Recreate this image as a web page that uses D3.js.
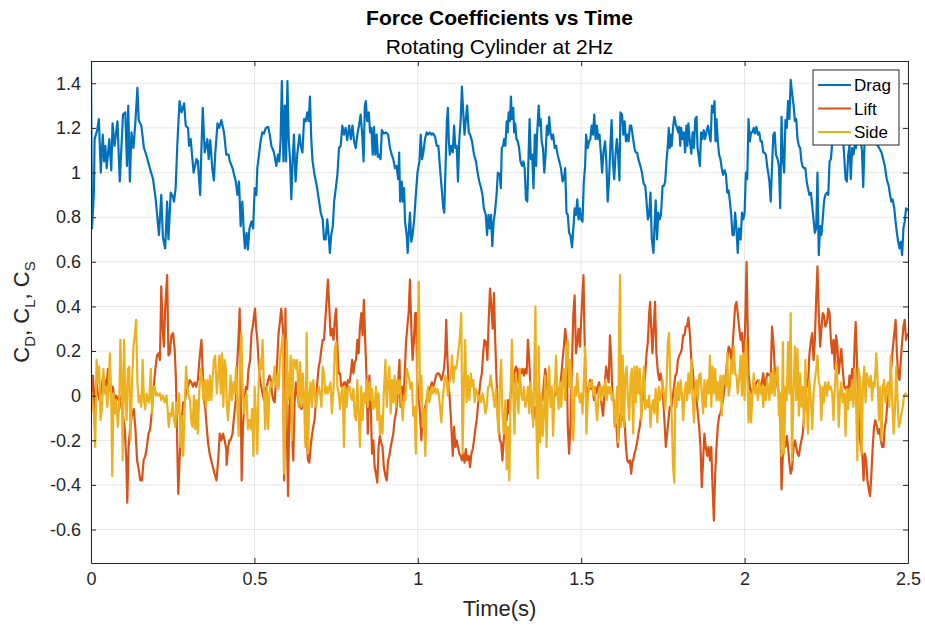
<!DOCTYPE html>
<html>
<head>
<meta charset="utf-8">
<script src="https://cdn.jsdelivr.net/npm/d3@7"></script>
<style>
  body { margin: 0; background: #fff; }
  svg text { font-family: "Liberation Sans", Arial, Helvetica, sans-serif; fill: #262626; }
</style>
</head>
<body>
<svg id="chart" width="925" height="632"></svg>
<script>
// tick values
var xTicks = [0, 0.5, 1, 1.5, 2, 2.5];
var yTicks = [-0.6, -0.4, -0.2, 0, 0.2, 0.4, 0.6, 0.8, 1, 1.2, 1.4];
var seriesNames = ["Drag", "Lift", "Side"];

// [time (s), coefficient]
var dragPts = [[0,1.50],[0.003,0.75],[0.009,0.91],[0.011,1.15],[0.019,1.19],[0.024,1.24],[0.030,1.00],[0.036,1.17],[0.040,1.05],[0.044,1.12],[0.048,1.02],[0.056,1.15],[0.062,1.01],[0.066,1.22],[0.072,1.12],[0.081,1.23],[0.088,0.96],[0.098,1.26],[0.105,1.27],[0.110,1.03],[0.114,1.30],[0.119,0.96],[0.124,1.18],[0.130,1.11],[0.136,1.23],[0.142,1.38],[0.146,1.235],[0.154,1.21],[0.162,1.11],[0.169,1.08],[0.180,1.02],[0.190,0.97],[0.198,0.88],[0.208,0.72],[0.215,0.90],[0.220,0.71],[0.227,0.66],[0.233,0.87],[0.237,0.70],[0.244,0.91],[0.251,0.89],[0.254,0.87],[0.259,0.93],[0.264,1.12],[0.267,1.21],[0.271,1.32],[0.277,1.27],[0.285,1.31],[0.290,1.21],[0.297,1.20],[0.300,1.12],[0.305,1.15],[0.314,1.00],[0.323,1.06],[0.327,1.05],[0.334,0.90],[0.338,1.11],[0.342,1.29],[0.348,1.09],[0.356,1.15],[0.360,1.06],[0.365,1.145],[0.371,1.02],[0.376,0.965],[0.380,1.08],[0.387,1.22],[0.392,1.20],[0.399,1.235],[0.407,1.18],[0.414,1.08],
  [0.421,1.08],[0.425,1.05],[0.433,1.02],[0.438,0.99],[0.443,0.96],[0.448,0.90],[0.453,0.96],[0.458,0.76],[0.463,0.87],[0.468,0.72],[0.471,0.66],[0.476,0.73],[0.480,0.655],[0.485,0.75],[0.491,0.78],[0.496,0.75],[0.501,0.93],[0.506,0.90],[0.509,1.02],[0.514,1.08],[0.519,1.14],[0.524,1.18],[0.529,1.175],[0.535,1.20],[0.542,1.205],[0.547,1.17],[0.552,1.12],[0.560,1.09],[0.567,1.03],[0.572,1.08],[0.576,1.05],[0.580,1.14],[0.584,1.41],[0.589,1.05],[0.593,1.30],[0.597,1.05],[0.601,1.41],[0.605,1.15],[0.609,1.06],[0.613,0.88],[0.617,1.05],[0.621,1.17],[0.626,0.96],[0.631,1.08],[0.638,1.17],[0.642,1.12],[0.647,1.09],[0.652,1.24],[0.657,1.23],[0.662,1.27],[0.666,1.23],[0.670,1.34],[0.674,1.15],[0.678,1.05],[0.684,0.99],[0.691,0.94],[0.697,0.88],[0.703,0.82],[0.709,0.79],[0.713,0.70],[0.718,0.70],[0.723,0.79],[0.727,0.72],[0.731,0.64],[0.735,0.72],[0.740,0.76],[0.744,0.87],[0.750,0.94],[0.754,0.99],[0.759,1.11],[0.764,1.12],[0.769,1.21],[0.774,1.17],[0.779,1.20],[0.784,1.145],[0.790,1.21],[0.795,1.15],[0.800,1.21],[0.805,1.14],[0.810,1.11],[0.815,1.17],[0.820,1.21],[0.825,1.26],[0.830,1.17],
  [0.834,1.05],[0.838,1.30],[0.841,1.32],[0.845,1.23],[0.850,1.27],[0.854,1.18],[0.858,1.20],[0.862,1.08],[0.866,1.205],[0.870,1.08],[0.874,1.17],[0.878,1.07],[0.882,1.08],[0.886,1.06],[0.890,1.19],[0.896,1.175],[0.903,1.18],[0.909,1.17],[0.915,1.11],[0.920,1.08],[0.925,1.06],[0.930,1.02],[0.935,1.03],[0.940,0.97],[0.943,1.09],[0.946,0.87],[0.951,0.96],[0.954,0.87],[0.958,0.93],[0.961,0.78],[0.966,0.72],[0.969,0.64],[0.973,0.75],[0.976,0.82],[0.980,0.69],[0.984,0.72],[0.989,0.79],[0.994,0.90],[0.999,1.00],[1.005,1.05],[1.009,1.17],[1.013,1.06],[1.017,1.09],[1.022,1.15],[1.027,1.18],[1.032,1.17],[1.037,1.18],[1.042,1.17],[1.047,1.175],[1.053,1.16],[1.058,1.12],[1.063,1.12],[1.068,1.02],[1.073,0.93],[1.078,0.84],[1.081,0.82],[1.085,1.03],[1.089,1.23],[1.092,1.29],[1.095,1.14],[1.098,1.08],[1.102,1.12],[1.107,1.09],[1.111,1.21],[1.115,1.11],[1.119,1.12],[1.123,0.96],[1.127,1.15],[1.131,1.23],[1.135,1.385],[1.139,1.27],[1.143,1.17],[1.147,1.24],[1.151,1.30],[1.156,1.18],[1.160,1.17],[1.166,1.14],[1.172,1.08],[1.178,1.05],[1.183,1.00],[1.188,0.96],[1.193,0.935],[1.198,0.90],[1.202,0.84],[1.208,0.81],[1.212,0.72],[1.216,0.81],[1.220,0.75],[1.224,0.81],[1.228,0.67],[1.232,0.78],[1.236,0.82],[1.241,0.90],[1.245,1.00],
  [1.251,0.99],[1.254,0.93],[1.257,1.11],[1.261,1.12],[1.264,1.15],[1.268,1.12],[1.272,1.23],[1.275,1.18],[1.278,1.27],[1.282,1.23],[1.285,1.34],[1.288,1.24],[1.292,1.29],[1.295,1.18],[1.298,1.22],[1.302,1.15],[1.306,1.14],[1.310,1.11],[1.314,1.05],[1.319,1.03],[1.323,1.05],[1.327,1.02],[1.331,0.88],[1.335,0.87],[1.339,1.08],[1.342,1.24],[1.346,1.06],[1.350,1.08],[1.354,0.93],[1.358,1.17],[1.362,1.03],[1.365,1.17],[1.370,1.30],[1.373,1.21],[1.376,1.24],[1.379,1.14],[1.383,1.11],[1.387,1.00],[1.391,1.08],[1.395,1.21],[1.399,1.17],[1.402,1.25],[1.406,1.18],[1.410,1.15],[1.414,1.17],[1.419,1.11],[1.423,1.12],[1.428,1.08],[1.433,1.05],[1.438,1.02],[1.443,0.96],[1.447,0.97],[1.451,1.02],[1.455,0.82],[1.459,0.81],[1.463,0.73],[1.467,0.72],[1.472,0.665],[1.476,0.75],[1.480,0.84],[1.484,0.81],[1.488,0.88],[1.492,0.79],[1.496,0.84],[1.500,0.79],[1.504,0.78],[1.508,0.96],[1.512,1.03],[1.515,1.17],[1.520,1.11],[1.524,1.14],[1.528,1.15],[1.532,1.21],[1.536,1.17],[1.540,1.26],[1.544,1.15],[1.548,1.21],[1.552,1.15],[1.556,1.17],[1.560,1.09],[1.564,1.00],[1.568,1.09],[1.573,1.14],[1.577,1.05],[1.581,0.87],[1.585,0.96],[1.589,1.11],[1.593,1.235],[1.597,1.05],[1.601,0.97],[1.605,1.08],[1.609,1.15],[1.613,1.08],[1.617,0.965],[1.620,1.27],[1.625,1.26],[1.629,1.17],[1.633,1.23],[1.637,1.14],[1.641,1.17],[1.645,1.14],[1.649,1.21],[1.653,1.21],[1.657,1.17],
  [1.663,1.11],[1.667,1.09],[1.671,1.09],[1.675,1.06],[1.681,1.03],[1.686,1.00],[1.691,0.95],[1.696,0.94],[1.700,0.87],[1.704,0.79],[1.708,0.81],[1.712,0.91],[1.716,0.70],[1.721,0.64],[1.725,0.78],[1.728,0.875],[1.732,0.70],[1.736,0.82],[1.740,0.79],[1.744,0.81],[1.749,0.94],[1.753,0.94],[1.757,0.96],[1.761,1.05],[1.765,1.12],[1.768,1.20],[1.771,1.11],[1.774,1.17],[1.777,1.12],[1.781,1.20],[1.785,1.25],[1.789,1.22],[1.793,1.20],[1.797,1.18],[1.800,1.205],[1.803,1.12],[1.806,1.20],[1.810,1.15],[1.814,1.18],[1.818,1.09],[1.822,1.21],[1.825,1.12],[1.828,1.22],[1.832,1.15],[1.837,1.085],[1.841,1.18],[1.845,1.11],[1.849,1.24],[1.853,1.25],[1.856,1.11],[1.859,1.08],[1.863,1.03],[1.867,1.18],[1.871,1.15],[1.875,1.19],[1.879,1.15],[1.883,1.18],[1.888,1.21],[1.892,1.17],[1.896,1.14],[1.900,1.30],[1.904,1.27],[1.908,1.32],[1.911,1.14],[1.914,1.24],[1.918,1.14],[1.922,1.08],[1.926,1.06],[1.930,1.02],[1.934,0.99],[1.939,1.01],[1.943,0.99],[1.947,0.91],[1.951,0.92],[1.955,0.87],[1.959,0.81],[1.963,0.72],[1.967,0.72],[1.971,0.82],[1.975,0.75],[1.979,0.64],[1.983,0.75],[1.988,0.70],[1.992,0.82],[1.996,0.79],[2.000,0.82],[2.004,1.00],[2.008,0.97],[2.012,1.24],[2.016,1.14],[2.020,1.18],[2.024,1.18],[2.028,1.20],[2.032,1.175],[2.036,1.205],[2.041,1.17],[2.045,1.18],[2.049,1.14],[2.053,1.14],[2.057,1.09],[2.061,1.09],[2.065,1.08],[2.069,1.03],
  [2.076,0.96],[2.080,0.87],[2.084,1.03],[2.088,1.17],[2.092,1.18],[2.096,1.08],[2.101,1.06],[2.105,1.03],[2.109,0.84],[2.113,1.25],[2.117,1.06],[2.121,1.00],[2.125,1.235],[2.129,1.20],[2.133,1.32],[2.137,1.24],[2.141,1.415],[2.145,1.36],[2.150,1.30],[2.154,1.23],[2.158,1.24],[2.162,1.15],[2.166,1.12],[2.170,1.11],[2.174,1.05],[2.178,1.025],[2.182,1.02],[2.186,1.02],[2.190,0.96],[2.194,0.93],[2.198,0.90],[2.203,0.91],[2.207,0.85],[2.211,0.79],[2.215,0.73],[2.219,0.75],[2.223,1.00],[2.227,0.63],[2.231,0.76],[2.235,0.72],[2.239,0.79],[2.243,0.87],[2.247,0.90],[2.252,0.91],[2.256,0.90],[2.260,1.05],[2.264,1.06],[2.268,1.13],[2.272,1.18],[2.277,1.22],[2.282,1.16],[2.287,1.25],[2.292,1.19],[2.297,1.22],[2.302,1.14],[2.309,0.97],[2.313,0.96],[2.317,1.08],[2.321,1.12],[2.325,0.97],[2.329,1.11],[2.333,1.08],[2.337,1.12],[2.341,1.11],[2.345,1.18],[2.350,1.22],[2.355,1.15],[2.359,1.10],[2.363,0.935],[2.367,1.14],[2.372,1.20],[2.377,1.24],[2.382,1.17],[2.387,1.21],[2.392,1.16],[2.397,1.19],[2.402,1.13],[2.408,1.12],[2.419,1.09],[2.429,1.03],[2.435,0.97],[2.441,0.94],[2.445,0.90],[2.449,0.87],[2.453,0.88],[2.458,0.84],[2.462,0.78],[2.466,0.73],[2.470,0.69],[2.474,0.66],[2.478,0.69],[2.482,0.63],[2.486,0.75],[2.490,0.78],[2.494,0.84],[2.500,0.83]];

var liftPts = [[0.000,0.00],[0.006,0.09],[0.011,-0.08],[0.016,0.07],[0.021,0.01],[0.026,-0.02],[0.032,0.03],[0.037,0.09],[0.042,0.07],[0.047,0.03],[0.052,0.12],[0.057,0.04],[0.062,0.01],[0.067,0.04],[0.072,-0.02],[0.077,0.00],[0.083,-0.02],[0.088,0.00],[0.093,-0.05],[0.098,-0.09],[0.103,-0.14],[0.108,-0.29],[0.111,-0.48],[0.115,-0.23],[0.120,-0.14],[0.125,-0.09],[0.131,-0.06],[0.136,-0.15],[0.141,-0.29],[0.146,-0.33],[0.151,-0.38],[0.156,-0.38],[0.161,-0.29],[0.166,-0.27],[0.171,-0.23],[0.176,-0.17],[0.181,-0.15],[0.187,-0.06],[0.192,0.04],[0.197,0.12],[0.202,0.18],[0.207,0.19],[0.211,0.16],[0.215,0.49],[0.219,0.31],[0.223,0.22],[0.227,0.39],[0.233,0.54],[0.237,0.18],[0.241,0.19],[0.246,0.27],[0.251,0.28],[0.256,0.21],[0.260,0.07],[0.264,-0.23],[0.267,-0.44],[0.271,-0.29],[0.276,-0.14],[0.282,-0.03],[0.287,-0.03],[0.292,0.03],[0.297,0.04],[0.302,0.07],[0.307,0.06],[0.312,0.04],[0.317,0.06],[0.322,0.04],[0.327,0.07],[0.333,0.18],[0.338,0.25],[0.342,0.10],[0.346,-0.02],[0.350,-0.06],[0.354,-0.14],[0.358,-0.21],[0.363,-0.26],[0.368,-0.29],[0.373,-0.32],[0.378,-0.35],[0.384,-0.38],[0.389,-0.29],[0.394,-0.17],[0.399,-0.20],[0.404,-0.17],[0.409,-0.20],[0.414,-0.24],
  [0.415,-0.31],[0.419,-0.24],[0.423,-0.20],[0.427,-0.20],[0.433,-0.17],[0.438,-0.09],[0.443,-0.02],[0.448,0.16],[0.452,0.28],[0.455,0.39],[0.458,0.01],[0.461,-0.38],[0.465,-0.14],[0.470,-0.02],[0.474,0.04],[0.478,0.03],[0.482,0.12],[0.487,0.16],[0.491,0.28],[0.495,0.31],[0.499,0.36],[0.502,0.39],[0.505,0.31],[0.509,0.25],[0.513,0.15],[0.517,0.07],[0.521,0.04],[0.525,0.01],[0.529,-0.02],[0.533,0.03],[0.538,0.04],[0.542,0.07],[0.546,0.09],[0.550,0.07],[0.554,0.01],[0.558,-0.02],[0.562,-0.03],[0.566,0.07],[0.570,0.16],[0.574,0.28],[0.578,0.33],[0.582,0.39],[0.587,0.31],[0.591,-0.38],[0.595,0.39],[0.599,-0.14],[0.603,-0.45],[0.607,-0.05],[0.611,0.01],[0.615,-0.17],[0.619,-0.29],[0.623,-0.03],[0.627,0.06],[0.631,0.01],[0.635,-0.03],[0.640,-0.05],[0.644,-0.06],[0.648,-0.05],[0.652,-0.03],[0.656,-0.08],[0.660,-0.18],[0.664,-0.29],[0.668,-0.30],[0.672,-0.23],[0.676,-0.18],[0.680,-0.14],[0.684,-0.11],[0.689,-0.02],[0.693,0.07],[0.697,0.13],[0.701,0.16],[0.705,0.21],[0.709,0.25],[0.713,0.25],[0.717,0.34],[0.721,0.43],[0.725,0.52],[0.729,0.40],[0.733,0.27],[0.737,0.30],[0.742,0.25],[0.746,0.34],[0.750,0.39],[0.754,0.22],[0.758,0.10],[0.762,0.10],[0.766,0.04],[0.770,0.04],[0.774,0.06],[0.778,0.06],[0.782,0.01],[0.786,0.07],[0.791,0.06],[0.795,0.10],[0.799,0.16],[0.803,0.10],[0.807,0.15],[0.811,0.16],[0.815,0.25],[0.819,0.19],[0.823,0.31],
  [0.827,0.37],[0.831,0.27],[0.835,0.43],[0.839,0.25],[0.843,0.09],[0.847,-0.17],[0.852,0.09],[0.856,-0.05],[0.860,-0.26],[0.864,-0.20],[0.868,-0.32],[0.872,-0.35],[0.876,-0.39],[0.880,-0.23],[0.884,-0.18],[0.888,-0.21],[0.892,-0.23],[0.896,-0.32],[0.901,-0.36],[0.905,-0.38],[0.909,-0.29],[0.913,-0.27],[0.917,-0.23],[0.921,-0.20],[0.925,-0.17],[0.929,-0.11],[0.933,-0.08],[0.937,-0.03],[0.941,0.09],[0.944,0.16],[0.947,-0.05],[0.952,0.04],[0.956,-0.03],[0.960,0.10],[0.964,0.24],[0.968,0.31],[0.972,0.37],[0.976,0.52],[0.980,0.31],[0.984,0.16],[0.988,0.24],[0.992,0.37],[0.995,0.37],[0.998,0.07],[1.003,0.00],[1.007,-0.09],[1.011,-0.20],[1.015,-0.08],[1.019,-0.11],[1.023,-0.05],[1.027,-0.02],[1.031,0.01],[1.035,0.03],[1.039,0.04],[1.043,0.06],[1.047,0.04],[1.051,0.06],[1.056,0.09],[1.060,0.10],[1.064,0.10],[1.068,0.09],[1.072,0.07],[1.076,0.09],[1.080,0.12],[1.084,0.19],[1.087,0.34],[1.090,0.19],[1.094,0.06],[1.098,-0.02],[1.102,-0.12],[1.107,-0.27],[1.111,-0.14],[1.115,-0.23],[1.119,-0.20],[1.123,-0.23],[1.127,-0.26],[1.131,-0.27],[1.135,-0.29],[1.139,-0.26],[1.143,-0.30],[1.147,-0.24],[1.151,-0.29],[1.156,-0.27],[1.160,-0.32],[1.164,-0.26],[1.168,-0.24],[1.172,-0.20],[1.176,-0.15],[1.180,-0.11],[1.184,-0.05],[1.188,0.01],[1.192,0.07],[1.196,0.10],[1.200,0.19],[1.204,0.25],[1.209,0.24],[1.213,0.16],[1.217,0.34],[1.221,0.48],[1.225,0.40],[1.229,0.30],[1.233,0.46],[1.237,0.24],[1.241,0.07],[1.245,-0.09],
  [1.251,-0.20],[1.255,-0.21],[1.259,-0.29],[1.263,-0.20],[1.268,-0.08],[1.272,-0.11],[1.276,-0.02],[1.280,-0.08],[1.284,0.01],[1.288,0.04],[1.292,0.04],[1.296,0.10],[1.300,0.13],[1.304,0.12],[1.308,0.06],[1.312,0.12],[1.317,0.10],[1.321,0.12],[1.325,0.09],[1.329,0.12],[1.333,0.10],[1.337,0.25],[1.341,0.16],[1.345,0.03],[1.349,-0.05],[1.353,-0.11],[1.357,-0.05],[1.361,-0.08],[1.365,-0.14],[1.370,-0.09],[1.374,-0.03],[1.378,0.00],[1.382,-0.02],[1.386,0.06],[1.390,0.12],[1.394,0.07],[1.398,0.01],[1.402,0.04],[1.406,0.01],[1.410,-0.02],[1.414,-0.02],[1.419,0.00],[1.423,0.01],[1.427,0.03],[1.431,0.01],[1.435,0.04],[1.439,0.09],[1.443,0.16],[1.447,0.22],[1.451,0.30],[1.455,0.25],[1.459,-0.14],[1.463,-0.26],[1.467,-0.14],[1.472,0.16],[1.476,0.37],[1.480,0.45],[1.484,0.19],[1.488,0.24],[1.492,0.30],[1.496,0.22],[1.500,0.34],[1.504,0.46],[1.507,0.54],[1.510,0.28],[1.514,0.06],[1.518,-0.02],[1.523,0.04],[1.527,0.07],[1.531,0.03],[1.535,0.04],[1.539,-0.02],[1.543,0.04],[1.547,0.01],[1.551,0.04],[1.555,0.06],[1.559,0.01],[1.563,-0.05],[1.567,-0.09],[1.572,0.03],[1.576,0.13],[1.580,0.10],[1.584,0.06],[1.588,0.27],[1.592,0.16],[1.596,-0.02],[1.600,-0.02],[1.604,-0.12],[1.608,-0.14],[1.612,-0.23],[1.616,-0.14],[1.620,-0.08],[1.625,-0.11],[1.629,-0.09],[1.633,-0.12],[1.637,-0.23],[1.641,-0.29],[1.645,-0.30],[1.649,-0.29],[1.653,-0.35],[1.657,-0.29],
  [1.659,-0.29],[1.663,-0.26],[1.667,-0.24],[1.671,-0.21],[1.675,-0.17],[1.679,-0.14],[1.684,-0.08],[1.688,-0.02],[1.692,0.04],[1.696,0.10],[1.700,0.19],[1.704,0.24],[1.708,0.37],[1.711,0.42],[1.714,0.31],[1.718,0.19],[1.722,0.31],[1.726,0.42],[1.730,0.19],[1.735,0.10],[1.739,0.07],[1.743,0.10],[1.747,0.06],[1.751,-0.02],[1.755,-0.12],[1.759,-0.23],[1.763,-0.17],[1.767,-0.11],[1.771,-0.05],[1.775,-0.06],[1.779,-0.02],[1.784,0.04],[1.788,0.09],[1.792,0.10],[1.796,0.16],[1.800,0.18],[1.804,0.19],[1.808,0.21],[1.812,0.27],[1.816,0.27],[1.820,0.31],[1.824,0.31],[1.828,0.35],[1.833,0.27],[1.837,0.16],[1.841,0.12],[1.845,0.04],[1.849,0.01],[1.853,-0.02],[1.857,-0.08],[1.861,-0.14],[1.865,-0.23],[1.869,-0.41],[1.873,-0.29],[1.877,-0.17],[1.881,-0.23],[1.886,-0.27],[1.890,-0.23],[1.894,-0.29],[1.898,-0.23],[1.902,-0.41],[1.906,-0.56],[1.910,-0.35],[1.914,-0.23],[1.918,-0.14],[1.922,-0.09],[1.926,-0.08],[1.930,-0.05],[1.934,-0.02],[1.939,0.04],[1.943,0.10],[1.947,0.16],[1.951,0.22],[1.955,0.21],[1.959,0.16],[1.963,0.21],[1.967,0.31],[1.971,0.40],[1.975,0.42],[1.979,0.37],[1.983,0.31],[1.988,0.25],[1.992,0.28],[1.996,0.19],[2.000,0.22],[2.003,0.39],[2.006,0.60],[2.009,0.34],[2.012,0.10],[2.016,0.04],[2.020,0.01],[2.024,0.03],[2.028,0.04],[2.032,0.04],[2.036,0.06],[2.041,0.07],[2.045,0.06],[2.049,0.03],[2.053,0.06],[2.057,0.10],[2.061,0.04],[2.065,0.06],[2.069,0.10],
  [2.076,0.09],[2.080,0.10],[2.084,0.31],[2.088,0.24],[2.092,0.13],[2.096,0.07],[2.101,0.04],[2.105,0.01],[2.109,-0.05],[2.113,-0.42],[2.117,-0.27],[2.121,-0.23],[2.125,-0.23],[2.129,-0.18],[2.133,-0.23],[2.137,-0.30],[2.141,-0.35],[2.145,-0.33],[2.150,-0.23],[2.154,-0.20],[2.158,-0.23],[2.162,-0.26],[2.166,-0.27],[2.170,-0.23],[2.174,-0.20],[2.178,-0.17],[2.182,-0.09],[2.186,0.01],[2.190,0.07],[2.194,0.04],[2.198,0.18],[2.203,0.25],[2.207,0.28],[2.211,0.16],[2.215,0.25],[2.219,0.43],[2.223,0.58],[2.227,0.37],[2.231,0.22],[2.235,0.30],[2.239,0.37],[2.243,0.36],[2.247,0.31],[2.252,0.33],[2.256,0.39],[2.260,0.37],[2.264,0.25],[2.268,0.19],[2.272,0.25],[2.276,0.12],[2.280,0.27],[2.284,0.22],[2.288,0.10],[2.292,0.16],[2.296,0.21],[2.300,0.12],[2.305,0.04],[2.309,0.03],[2.313,0.04],[2.317,0.01],[2.321,0.09],[2.325,0.04],[2.329,0.12],[2.333,0.07],[2.337,0.24],[2.340,0.33],[2.343,0.19],[2.347,0.01],[2.351,-0.17],[2.356,-0.23],[2.360,-0.26],[2.364,-0.38],[2.368,-0.26],[2.372,-0.29],[2.376,-0.38],[2.380,-0.42],[2.384,-0.45],[2.388,-0.35],[2.392,-0.23],[2.396,-0.14],[2.400,-0.11],[2.405,-0.14],[2.409,-0.17],[2.413,-0.15],[2.417,-0.20],[2.421,-0.23],[2.425,-0.23],[2.429,-0.14],[2.433,-0.11],[2.437,-0.03],[2.441,0.01],[2.445,0.07],[2.449,0.13],[2.454,0.22],[2.458,0.28],[2.462,0.34],[2.466,0.19],[2.470,0.09],[2.474,0.07],[2.478,0.16],[2.482,0.24],[2.486,0.31],[2.490,0.34],[2.494,0.25],[2.498,0.28]];

var sidePts = [[0.000,0.02],[0.005,-0.03],[0.009,-0.09],[0.013,-0.23],[0.017,0.16],[0.021,0.06],[0.025,0.13],[0.029,-0.11],[0.034,-0.05],[0.038,0.12],[0.042,0.01],[0.046,0.04],[0.050,-0.05],[0.054,0.04],[0.058,0.19],[0.062,-0.02],[0.065,-0.36],[0.069,0.01],[0.073,-0.08],[0.077,-0.02],[0.082,-0.14],[0.086,-0.05],[0.090,0.25],[0.094,0.04],[0.097,-0.29],[0.101,0.25],[0.105,0.01],[0.109,-0.11],[0.113,0.12],[0.117,0.13],[0.121,-0.20],[0.125,0.04],[0.130,0.22],[0.134,0.27],[0.138,0.34],[0.142,0.06],[0.146,-0.03],[0.150,0.00],[0.154,-0.05],[0.158,0.16],[0.162,-0.02],[0.166,-0.06],[0.170,0.01],[0.174,-0.02],[0.178,-0.03],[0.183,0.12],[0.187,-0.08],[0.191,0.04],[0.195,0.04],[0.199,0.00],[0.203,0.01],[0.207,0.00],[0.211,0.01],[0.215,-0.02],[0.220,0.00],[0.225,-0.03],[0.231,0.00],[0.234,-0.05],[0.238,-0.14],[0.242,-0.08],[0.246,-0.09],[0.250,-0.03],[0.254,-0.11],[0.258,-0.14],[0.262,-0.03],[0.266,-0.08],[0.270,0.01],[0.274,-0.23],[0.278,-0.09],[0.282,-0.27],[0.287,-0.03],[0.291,0.13],[0.295,0.04],[0.299,0.00],[0.303,-0.02],[0.307,-0.12],[0.311,-0.14],[0.315,0.00],[0.319,-0.15],[0.323,-0.02],[0.327,-0.17],[0.331,0.01],[0.336,0.12],[0.340,0.07],[0.344,-0.02],[0.348,0.07],[0.352,-0.05],[0.356,0.07],[0.360,-0.02],[0.364,0.09],[0.368,-0.02],[0.372,0.07],[0.376,0.16],[0.380,0.18],[0.385,0.01],[0.389,0.09],[0.393,0.18],[0.397,0.01],[0.401,0.19],[0.405,-0.05],[0.409,0.16],[0.413,0.12],
  [0.415,-0.02],[0.419,-0.11],[0.423,-0.02],[0.427,0.09],[0.431,-0.02],[0.436,0.06],[0.440,0.01],[0.444,0.13],[0.448,-0.06],[0.452,-0.18],[0.456,0.16],[0.460,0.28],[0.464,0.04],[0.468,-0.08],[0.472,-0.02],[0.476,0.01],[0.480,-0.15],[0.485,-0.11],[0.489,-0.15],[0.493,-0.06],[0.497,-0.27],[0.501,0.04],[0.505,-0.09],[0.509,-0.26],[0.513,0.06],[0.517,0.16],[0.521,0.12],[0.525,0.25],[0.529,0.04],[0.533,-0.15],[0.538,0.04],[0.542,-0.15],[0.546,0.01],[0.550,0.06],[0.554,0.04],[0.558,0.07],[0.562,0.13],[0.566,0.04],[0.570,0.09],[0.574,0.03],[0.578,0.16],[0.582,0.21],[0.587,0.27],[0.591,-0.35],[0.595,-0.11],[0.599,0.25],[0.603,-0.02],[0.607,0.04],[0.611,0.18],[0.615,-0.20],[0.619,0.16],[0.623,0.16],[0.627,0.12],[0.631,0.16],[0.635,-0.05],[0.640,0.15],[0.644,-0.05],[0.648,0.10],[0.652,-0.02],[0.656,-0.23],[0.660,0.28],[0.664,-0.26],[0.668,0.00],[0.672,0.06],[0.676,-0.05],[0.680,0.07],[0.684,0.01],[0.689,-0.05],[0.693,0.01],[0.697,0.04],[0.701,0.01],[0.705,-0.05],[0.709,0.13],[0.713,0.10],[0.717,0.01],[0.721,0.04],[0.725,0.01],[0.729,0.04],[0.733,0.06],[0.737,-0.08],[0.742,0.03],[0.746,0.21],[0.750,0.24],[0.754,0.04],[0.758,0.01],[0.762,-0.06],[0.766,0.01],[0.770,0.04],[0.774,-0.23],[0.778,0.04],[0.782,-0.05],[0.786,0.03],[0.791,0.04],[0.795,0.00],[0.799,-0.02],[0.803,0.03],[0.807,-0.09],[0.811,-0.11],[0.815,0.07],[0.819,-0.09],[0.823,-0.23],
  [0.827,0.04],[0.831,-0.11],[0.835,0.01],[0.839,-0.03],[0.843,0.07],[0.847,-0.05],[0.852,0.06],[0.856,-0.02],[0.860,0.03],[0.864,-0.06],[0.868,-0.05],[0.872,0.04],[0.876,-0.11],[0.880,0.01],[0.884,-0.17],[0.888,-0.09],[0.892,-0.17],[0.896,0.01],[0.901,0.16],[0.905,-0.05],[0.909,0.06],[0.913,0.13],[0.917,-0.08],[0.921,0.07],[0.925,-0.03],[0.929,0.09],[0.933,-0.05],[0.937,0.07],[0.941,0.01],[0.945,0.07],[0.949,-0.02],[0.954,-0.11],[0.958,0.00],[0.962,-0.02],[0.966,0.12],[0.970,0.10],[0.974,0.07],[0.978,0.03],[0.982,0.06],[0.986,-0.09],[0.990,-0.05],[0.994,-0.26],[0.998,0.12],[1.003,0.51],[1.007,-0.02],[1.011,0.09],[1.015,-0.14],[1.019,-0.06],[1.023,-0.27],[1.027,-0.02],[1.031,0.04],[1.035,-0.03],[1.039,0.00],[1.043,0.04],[1.047,0.01],[1.051,0.04],[1.056,0.01],[1.060,0.03],[1.064,0.01],[1.068,-0.05],[1.072,-0.12],[1.076,-0.02],[1.080,0.04],[1.084,0.09],[1.088,0.07],[1.092,0.00],[1.096,0.06],[1.100,0.07],[1.105,0.18],[1.109,0.06],[1.113,0.13],[1.117,0.12],[1.121,0.16],[1.125,0.21],[1.129,0.27],[1.133,0.37],[1.137,-0.26],[1.141,0.04],[1.145,0.25],[1.149,-0.03],[1.153,0.09],[1.158,-0.02],[1.162,0.10],[1.166,0.04],[1.170,0.07],[1.174,-0.03],[1.178,0.03],[1.182,0.01],[1.186,-0.02],[1.190,0.00],[1.194,-0.03],[1.198,0.01],[1.202,-0.02],[1.207,-0.08],[1.211,-0.05],[1.215,0.04],[1.219,0.04],[1.223,0.09],[1.227,0.04],[1.231,0.00],[1.235,-0.05],[1.239,0.03],[1.243,-0.08],[1.247,-0.17],
  [1.251,0.04],[1.255,0.16],[1.259,-0.08],[1.263,-0.17],[1.268,-0.02],[1.272,-0.33],[1.276,-0.14],[1.280,-0.38],[1.284,0.01],[1.288,0.25],[1.292,0.01],[1.296,-0.17],[1.300,0.10],[1.304,0.01],[1.308,-0.08],[1.312,0.12],[1.317,0.00],[1.321,-0.02],[1.325,0.04],[1.329,-0.05],[1.333,-0.02],[1.337,0.04],[1.341,-0.08],[1.345,0.06],[1.349,-0.02],[1.353,-0.14],[1.357,0.16],[1.360,0.40],[1.363,-0.14],[1.367,-0.37],[1.370,0.22],[1.374,-0.21],[1.378,0.01],[1.382,-0.18],[1.386,-0.08],[1.390,0.09],[1.394,-0.23],[1.398,0.01],[1.402,0.13],[1.406,-0.05],[1.410,0.04],[1.414,-0.18],[1.419,0.04],[1.423,0.18],[1.427,0.01],[1.431,-0.06],[1.435,0.06],[1.439,-0.05],[1.443,0.06],[1.447,0.12],[1.451,-0.02],[1.455,0.19],[1.459,0.25],[1.463,0.04],[1.467,0.16],[1.472,-0.02],[1.476,-0.20],[1.480,0.04],[1.484,0.00],[1.488,0.10],[1.492,0.01],[1.496,-0.03],[1.500,0.01],[1.504,-0.08],[1.508,0.07],[1.512,0.22],[1.516,-0.17],[1.520,-0.02],[1.525,0.06],[1.529,0.04],[1.533,0.07],[1.537,0.00],[1.541,0.04],[1.545,-0.05],[1.549,-0.11],[1.553,0.01],[1.557,0.04],[1.561,-0.02],[1.565,0.04],[1.569,0.00],[1.574,0.07],[1.578,-0.02],[1.582,0.04],[1.586,0.01],[1.590,0.04],[1.594,-0.02],[1.598,0.01],[1.602,-0.14],[1.606,-0.08],[1.610,0.04],[1.613,-0.21],[1.616,0.31],[1.619,0.54],[1.622,-0.14],[1.627,0.18],[1.631,-0.14],[1.635,0.09],[1.639,0.13],[1.643,-0.02],[1.647,-0.11],[1.651,0.07],[1.655,0.12],
  [1.659,-0.17],[1.663,0.13],[1.667,-0.03],[1.671,0.13],[1.675,0.01],[1.679,0.12],[1.684,-0.11],[1.688,0.04],[1.692,0.13],[1.696,-0.06],[1.700,-0.02],[1.704,-0.05],[1.708,0.00],[1.712,-0.14],[1.716,-0.05],[1.720,-0.02],[1.724,-0.08],[1.728,0.03],[1.733,-0.12],[1.737,0.04],[1.741,-0.02],[1.745,0.01],[1.749,0.07],[1.753,0.01],[1.757,-0.06],[1.761,0.04],[1.765,0.24],[1.769,0.28],[1.773,0.04],[1.777,-0.09],[1.781,-0.32],[1.785,-0.39],[1.788,0.04],[1.792,-0.05],[1.796,0.06],[1.800,-0.02],[1.804,0.07],[1.808,0.01],[1.812,-0.11],[1.816,0.01],[1.820,0.06],[1.824,-0.02],[1.828,0.10],[1.832,0.01],[1.837,0.16],[1.841,-0.02],[1.845,-0.12],[1.849,0.04],[1.853,0.07],[1.857,-0.02],[1.861,0.09],[1.865,0.10],[1.869,0.01],[1.873,-0.08],[1.877,0.07],[1.881,-0.05],[1.886,0.07],[1.890,0.01],[1.894,0.18],[1.898,-0.05],[1.902,0.13],[1.906,0.01],[1.910,0.12],[1.914,-0.02],[1.918,0.06],[1.922,-0.02],[1.926,0.09],[1.930,-0.09],[1.934,0.09],[1.939,0.07],[1.943,0.04],[1.947,0.19],[1.951,0.00],[1.955,0.04],[1.959,0.16],[1.963,0.10],[1.967,0.22],[1.971,0.10],[1.975,0.09],[1.979,0.01],[1.983,0.07],[1.988,0.18],[1.992,0.00],[1.996,0.19],[2.000,-0.02],[2.004,0.25],[2.008,0.13],[2.012,-0.12],[2.016,0.01],[2.020,-0.12],[2.024,0.01],[2.028,0.10],[2.032,0.01],[2.036,0.04],[2.041,-0.02],[2.045,0.07],[2.049,0.01],[2.053,0.04],[2.057,-0.05],[2.061,0.04],[2.065,-0.02],[2.069,0.07],
  [2.076,-0.02],[2.080,0.10],[2.084,0.01],[2.088,0.12],[2.092,0.00],[2.096,0.09],[2.101,0.13],[2.105,-0.09],[2.109,0.01],[2.113,-0.27],[2.117,0.24],[2.121,-0.26],[2.125,0.04],[2.129,-0.02],[2.133,0.24],[2.137,0.01],[2.141,0.37],[2.145,-0.29],[2.150,0.04],[2.154,0.22],[2.158,-0.02],[2.162,0.21],[2.166,-0.09],[2.170,0.10],[2.174,-0.05],[2.178,0.04],[2.182,-0.14],[2.186,0.16],[2.190,-0.02],[2.194,-0.17],[2.198,0.07],[2.203,-0.02],[2.207,-0.15],[2.211,0.01],[2.215,0.07],[2.219,0.12],[2.223,0.18],[2.227,0.06],[2.231,0.04],[2.235,-0.11],[2.239,0.04],[2.243,-0.03],[2.247,0.06],[2.252,0.00],[2.256,0.06],[2.260,0.03],[2.264,0.04],[2.268,0.01],[2.272,-0.11],[2.276,0.03],[2.280,0.15],[2.284,0.06],[2.288,-0.14],[2.292,0.01],[2.296,0.06],[2.300,-0.03],[2.305,0.01],[2.309,-0.18],[2.313,0.03],[2.317,-0.06],[2.321,0.03],[2.325,-0.02],[2.329,0.07],[2.333,-0.05],[2.337,0.12],[2.341,-0.02],[2.345,-0.29],[2.349,0.12],[2.354,0.06],[2.358,-0.26],[2.362,0.04],[2.366,0.13],[2.370,-0.03],[2.374,0.10],[2.378,0.07],[2.382,0.04],[2.386,0.09],[2.390,-0.02],[2.394,0.06],[2.398,0.04],[2.403,0.19],[2.407,0.07],[2.411,-0.11],[2.415,0.04],[2.419,-0.20],[2.423,0.04],[2.427,0.07],[2.431,-0.03],[2.435,0.04],[2.439,0.06],[2.443,-0.05],[2.447,0.18],[2.451,0.01],[2.456,-0.17],[2.460,-0.06],[2.464,0.13],[2.468,-0.02],[2.472,-0.14],[2.476,-0.12],[2.480,-0.08],[2.484,-0.05],[2.488,0.00],[2.492,0.01],[2.496,0.00]];

var colors = ["#0072BD", "#D95319", "#EDB120"];

function drawChart() {
  var svg = d3.select("#chart");
  var m = { left: 91, right: 908, top: 61, bottom: 563 };

  var x = d3.scaleLinear().domain([0, 2.5]).range([m.left, m.right]);
  var y = d3.scaleLinear().domain([-0.75, 1.5]).range([m.bottom, m.top]);

  // grid
  var grid = svg.append("g");
  grid.selectAll(".gx").data(xTicks).enter().append("line")
    .attr("x1", function(d) { return x(d); }).attr("x2", function(d) { return x(d); })
    .attr("y1", m.top).attr("y2", m.bottom)
    .attr("stroke", "#e6e6e6").attr("stroke-width", 1);
  grid.selectAll(".gy").data(yTicks).enter().append("line")
    .attr("x1", m.left).attr("x2", m.right)
    .attr("y1", function(d) { return y(d); }).attr("y2", function(d) { return y(d); })
    .attr("stroke", "#e6e6e6").attr("stroke-width", 1);

  // clip the lines to the axes box
  svg.append("clipPath").attr("id", "clip").append("rect")
    .attr("x", m.left).attr("y", m.top).attr("width", m.right - m.left).attr("height", m.bottom - m.top);

  var line = d3.line()
    .x(function(d) { return x(d[0]); })
    .y(function(d) { return y(d[1]); });

  var plot = svg.append("g").attr("clip-path", "url(#clip)");
  [dragPts, liftPts, sidePts].forEach(function(pts, i) {
    plot.append("path")
      .datum(pts)
      .attr("d", line)
      .attr("fill", "none")
      .attr("stroke", colors[i])
      .attr("stroke-width", 2.2)
      .attr("stroke-linejoin", "round");
  });

  // axes (ticks inside, box on)
  var tickFmt = function(d) { return String(d); };
  svg.append("g").attr("transform", "translate(0," + m.bottom + ")")
    .call(d3.axisBottom(x).tickValues(xTicks).tickSizeInner(-5).tickSizeOuter(0).tickPadding(9).tickFormat(tickFmt));
  svg.append("g").attr("transform", "translate(" + m.left + ",0)")
    .call(d3.axisLeft(y).tickValues(yTicks).tickSizeInner(-5).tickSizeOuter(0).tickPadding(10).tickFormat(tickFmt));
  svg.append("g").attr("transform", "translate(0," + m.top + ")")
    .call(d3.axisTop(x).tickValues(xTicks).tickSizeInner(-5).tickSizeOuter(0).tickFormat(""));
  svg.append("g").attr("transform", "translate(" + m.right + ",0)")
    .call(d3.axisRight(y).tickValues(yTicks).tickSizeInner(-5).tickSizeOuter(0).tickFormat(""));

  svg.selectAll(".domain").attr("stroke", "#262626").attr("stroke-width", 1);
  svg.selectAll(".tick line").attr("stroke", "#262626");
  svg.selectAll(".tick text").attr("font-size", 18).attr("fill", "#262626")
    .style("font-family", "'Liberation Sans', Arial, sans-serif");

  // titles
  var cx = (m.left + m.right) / 2;
  svg.append("text").attr("x", cx).attr("y", 25)
    .attr("text-anchor", "middle").attr("font-size", 21).attr("font-weight", "bold")
    .style("fill", "#000").text("Force Coefficients vs Time");
  svg.append("text").attr("x", cx).attr("y", 54)
    .attr("text-anchor", "middle").attr("font-size", 21)
    .style("fill", "#000").text("Rotating Cylinder at 2Hz");

  svg.append("text").attr("x", cx).attr("y", 616)
    .attr("text-anchor", "middle").attr("font-size", 22).text("Time(s)");

  // y label with subscripts
  var yl = svg.append("text")
    .attr("transform", "translate(29," + ((m.top + m.bottom) / 2) + ") rotate(-90)")
    .attr("text-anchor", "middle").attr("font-size", 22);
  [["C", "D", ", "], ["C", "L", ", "], ["C", "S", ""]].forEach(function(p) {
    yl.append("tspan").text(p[0]);
    yl.append("tspan").attr("font-size", 15).attr("dy", 6).text(p[1]);
    yl.append("tspan").attr("dy", -6).text(p[2]);
  });

  // legend
  var lg = svg.append("g").attr("transform", "translate(813,70)");
  lg.append("rect").attr("width", 86).attr("height", 75)
    .attr("fill", "#fff").attr("stroke", "#262626").attr("stroke-width", 1);
  seriesNames.forEach(function(name, i) {
    var yy = 15 + i * 23.5;
    lg.append("line").attr("x1", 5).attr("x2", 38).attr("y1", yy).attr("y2", yy)
      .attr("stroke", colors[i]).attr("stroke-width", 2.2);
    lg.append("text").attr("x", 41).attr("y", yy + 6).attr("font-size", 17)
      .style("fill", "#000").text(name);
  });
}

drawChart();
</script>
</body>
</html>
